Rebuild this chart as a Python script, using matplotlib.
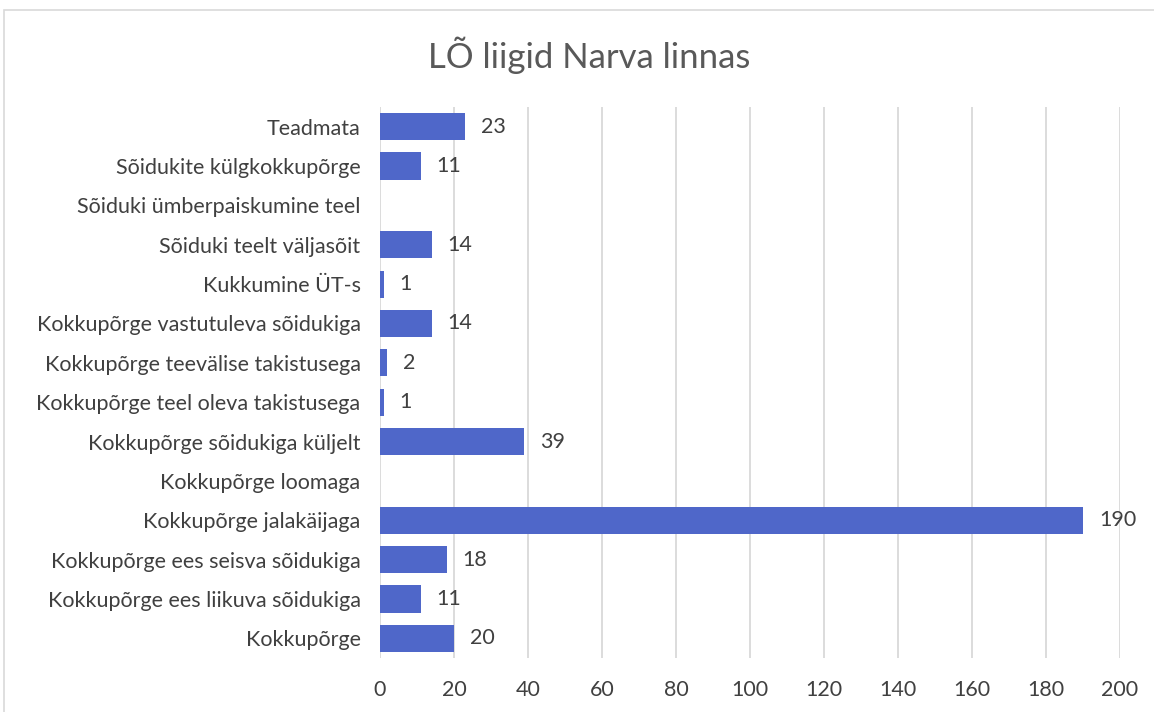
import numpy as np
import matplotlib
matplotlib.use("Agg")
import matplotlib.pyplot as plt
from matplotlib.patches import Rectangle

categories = [
    "Kokkupõrge",
    "Kokkupõrge ees liikuva sõidukiga",
    "Kokkupõrge ees seisva sõidukiga",
    "Kokkupõrge jalakäijaga",
    "Kokkupõrge loomaga",
    "Kokkupõrge sõidukiga küljelt",
    "Kokkupõrge teel oleva takistusega",
    "Kokkupõrge teevälise takistusega",
    "Kokkupõrge vastutuleva sõidukiga",
    "Kukkumine ÜT-s",
    "Sõiduki teelt väljasõit",
    "Sõiduki ümberpaiskumine teel",
    "Sõidukite külgkokkupõrge",
    "Teadmata",
]
values = [20, 11, 18, 190, None, 39, 1, 2, 14, 1, 14, None, 11, 23]
x_ticks = [0, 20, 40, 60, 80, 100, 120, 140, 160, 180, 200]
title = "LÕ liigid Narva linnas"

plt.rcParams["font.family"] = ["Lato", "DejaVu Sans"]

fig = plt.figure(figsize=(11.54, 7.12), dpi=100)
fig.patch.set_facecolor("white")

# outer chart frame
fig.patches.append(Rectangle((4 / 1154, -0.05), 1.2, 1 - 10 / 712 + 0.05,
                             transform=fig.transFigure, fill=False,
                             edgecolor="#D9D9D9", linewidth=1.2))

ax = fig.add_axes([380 / 1154, 1 - 658 / 712, (1120 - 380) / 1154, (658 - 107) / 712])

bar_color = "#4F67C9"
text_color = "#404040"
y = np.arange(len(categories))
plot_vals = [v if v is not None else 0 for v in values]
ax.barh(y, plot_vals, height=0.69, color=bar_color, zorder=3)

for yi, v in zip(y, values):
    if v is None:
        continue
    ax.text(v + 4.3, yi, str(v), va="center", ha="left", fontsize=15.5, color=text_color)

ax.set_xlim(0, 200)
ax.set_ylim(-0.5, len(categories) - 0.5)
ax.set_xticks(x_ticks)
ax.set_xticklabels([str(t) for t in x_ticks])
ax.set_yticks(y)
ax.set_yticklabels(categories)
ax.tick_params(axis="both", length=0, labelsize=15.5, labelcolor=text_color)
ax.tick_params(axis="y", pad=14)
ax.tick_params(axis="x", pad=16)
ax.grid(axis="x", color="#D9D9D9", linewidth=1.3, zorder=0)
for s in ax.spines.values():
    s.set_visible(False)

fig.text(589 / 1154, 1 - 55 / 712, title, ha="center", va="center",
         fontsize=25, color="#595959")

fig.savefig("out.png", dpi=100)
